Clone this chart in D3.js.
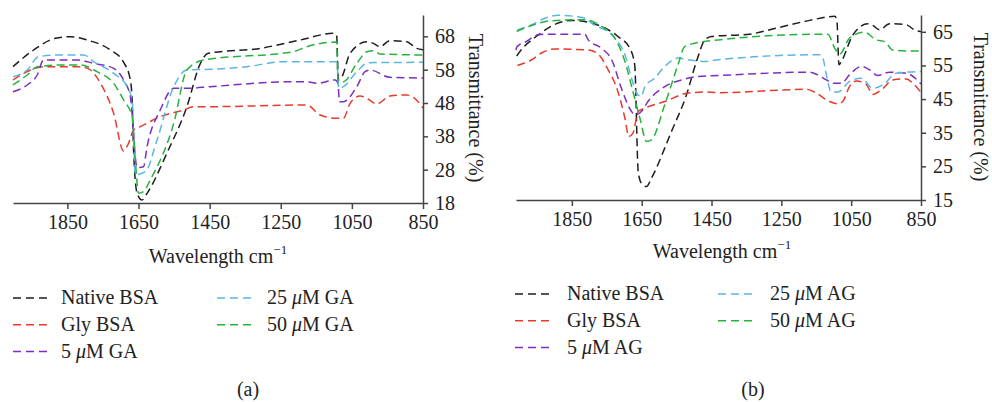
<!DOCTYPE html>
<html><head><meta charset="utf-8">
<script src="https://cdn.jsdelivr.net/npm/d3@7"></script>
<style>
html,body{margin:0;padding:0;background:#fff;}
svg{display:block;font-family:"Liberation Serif","DejaVu Serif",serif;}
</style></head>
<body><svg id="c" width="992" height="402"></svg>
<script>
// ---------- DATA ----------
const xTicks = [1850, 1650, 1450, 1250, 1050, 850];
const yTicksA = [18, 28, 38, 48, 58, 68];
const yTicksB = [15, 25, 35, 45, 55, 65];
const seriesColors = ["#1e1e1e", "#e8392b", "#7b2fc2", "#5db5e6", "#25b33c"];
const legendA = ["Native BSA", "Gly BSA", "5 μM GA", "25 μM GA", "50 μM GA"];
const legendB = ["Native BSA", "Gly BSA", "5 μM AG", "25 μM AG", "50 μM AG"];
const xTitle = "Wavelength cm";
const yTitle = "Transmittance (%)";

// Panel (a): [wavenumber, transmittance]
const nativeA = [[2003,58.9],[1945,63.9],[1884,67.4],[1842,67.9],[1795,66.9],[1729,63.9],[1693,60.4],[1673,54.9],[1668,48.9],[1664,33.9],[1654,20.9],[1640,18.9],[1626,20.9],[1570,33],[1514,46.9],[1476,59.9],[1454,62.9],[1308,64.4],[1195,66.9],[1102,68.9],[1093,68.4],[1088,54.9],[1078,55.9],[1055,62.9],[1008,66.4],[990,65.9],[971,64.9],[943,66.7],[896,66.4],[868,64.4],[850,64.0]];
const glyA = [[2003,54.9],[1954,57.9],[1917,58.9],[1813,58.9],[1785,57.9],[1757,53.9],[1720,44.9],[1692,33.6],[1678,35.9],[1664,39.9],[1645,40.9],[1589,43.9],[1523,45.9],[1495,46.9],[1448,46.9],[1177,47.4],[1139,44.4],[1092,43.4],[1074,43.4],[1055,47.9],[1027,50.1],[1008,49.4],[980,47.7],[943,50.1],[896,50.4],[877,49.7],[850,46.5]];
const ga5A = [[2003,51.4],[1963,53.4],[1935,56.4],[1917,60.9],[1823,60.9],[1776,59.9],[1720,58.4],[1692,54.9],[1673,49.9],[1654,28.6],[1636,28.9],[1626,34.9],[1589,45.9],[1551,52.4],[1514,52.4],[1448,52.9],[1214,54.4],[1177,54.4],[1149,53.9],[1097,54.9],[1089,53.9],[1085,48.4],[1074,48.4],[1036,52.9],[1013,57.4],[999,57.9],[943,55.7],[850,55.5]];
const ga25A = [[2003,55.9],[1963,57.9],[1931,61.9],[1870,62.4],[1804,62.4],[1776,60.4],[1720,56.9],[1682,52.9],[1668,48.9],[1659,26.5],[1630,27.5],[1598,36.9],[1551,52.9],[1514,57.9],[1448,58.1],[1345,58.9],[1242,60.4],[1092,60.4],[1087,52.4],[1074,52.9],[1036,57.4],[1004,60.1],[850,60.2]];
const ga50A = [[2003,53.4],[1963,56.4],[1935,58.9],[1860,59.4],[1813,59.4],[1767,57.4],[1720,53.9],[1692,48.9],[1668,43.9],[1659,30.9],[1650,20.9],[1636,21.4],[1617,24.9],[1551,41.9],[1514,57.9],[1467,60.9],[1214,63.4],[1177,64.9],[1093,66.3],[1089,54.4],[1074,54.4],[1036,59.9],[1008,63.4],[990,63.7],[971,62.7],[850,62.4]];

// Panel (b)
const nativeB = [[2008,57.8],[1999,59.1],[1946,64.1],[1889,67.6],[1851,68.4],[1794,67.6],[1718,63.6],[1684,60.1],[1670,55.2],[1660,23.4],[1651,20.0],[1636,19.0],[1622,21.5],[1565,35.3],[1522,46.2],[1493,56.2],[1469,62.6],[1450,63.6],[1341,64.3],[1264,66.1],[1169,68.4],[1097,69.6],[1091,68.6],[1085,55.2],[1078,56.2],[1045,64.1],[1002,67.4],[988,66.9],[969,65.6],[940,67.4],[892,67.1],[869,65.6],[850,65.0]];
const glyB = [[2006,55.0],[1965,56.7],[1937,58.7],[1899,59.9],[1803,59.6],[1775,58.4],[1746,53.7],[1718,47.2],[1698,39.3],[1687,33.9],[1675,34.9],[1660,41.3],[1641,42.3],[1584,44.3],[1517,46.8],[1469,47.1],[1431,46.9],[1178,47.9],[1150,46.8],[1121,44.8],[1088,43.6],[1074,44.3],[1055,48.7],[1035,50.4],[1007,49.4],[988,46.4],[959,48.2],[931,50.7],[892,51.0],[873,49.7],[850,47.0]];
const ag5B = [[2010,59.6],[2007,60.6],[1984,61.9],[1946,64.1],[1918,64.3],[1813,64.3],[1803,62.6],[1765,60.1],[1736,56.7],[1708,48.2],[1679,41.3],[1668,40.3],[1651,41.3],[1632,44.3],[1584,48.7],[1536,50.7],[1489,51.7],[1431,52.0],[1169,53.0],[1150,52.4],[1121,50.7],[1102,49.7],[1078,49.7],[1055,52.2],[1021,54.7],[997,53.7],[974,52.0],[940,53.0],[892,52.7],[850,49.5]];
const ag25B = [[2006,65.6],[1965,67.1],[1937,68.6],[1889,69.9],[1813,69.1],[1794,67.6],[1727,63.1],[1698,58.2],[1679,51.2],[1665,46.8],[1651,45.8],[1641,48.7],[1613,51.2],[1584,54.7],[1546,57.2],[1517,56.7],[1469,56.2],[1431,56.7],[1140,58.2],[1131,57.2],[1121,52.2],[1107,47.1],[1088,47.1],[1055,50.2],[1021,51.2],[988,48.2],[959,49.2],[921,52.7],[850,53.2]];
const ag50B = [[2008,65.1],[1965,66.9],[1908,68.3],[1813,68.6],[1765,66.6],[1727,63.1],[1698,56.2],[1675,47.2],[1655,39.3],[1636,32.4],[1622,32.9],[1584,43.3],[1546,55.2],[1527,60.6],[1498,61.6],[1431,62.6],[1131,64.3],[1117,64.3],[1097,60.1],[1083,58.4],[1055,63.1],[1012,64.9],[978,62.6],[954,62.1],[931,59.6],[883,59.3],[850,59.3]];

// ---------- DRAW ----------
const svg = d3.select("#c");
const FS = 20;

function panel(cfg) {
  const g = svg.append("g");
  const x = d3.scaleLinear().domain(cfg.xDomain).range(cfg.xRange);
  const y = d3.scaleLinear().domain(cfg.yDomain).range(cfg.yRange);

  const line = d3.line().x(d => x(d[0])).y(d => y(d[1])).curve(d3.curveMonotoneX);
  cfg.series.forEach((s, i) => {
    g.append("path").datum(s).attr("d", line)
      .attr("fill", "none").attr("stroke", seriesColors[i])
      .attr("stroke-width", 1.5).attr("stroke-dasharray", "8,4.5");
  });

  const xa = g.append("g").attr("transform", `translate(0,${cfg.yRange[0]})`)
    .call(d3.axisBottom(x).tickValues(xTicks).tickSize(6).tickSizeOuter(0).tickPadding(6).tickFormat(d3.format("d")));
  const ya = g.append("g").attr("transform", `translate(${cfg.xRange[1]},0)`)
    .call(d3.axisRight(y).tickValues(cfg.yTicks).tickSize(5).tickSizeOuter(0).tickPadding(7));
  [xa, ya].forEach(a => {
    a.selectAll("path,line").attr("stroke", "#444").attr("stroke-width", 1.5);
    a.selectAll("text").attr("font-size", FS).attr("fill", "#222")
      .attr("font-family", '"Liberation Serif","DejaVu Serif",serif');
  });

  // x title
  const xt = g.append("text").attr("x", cfg.xTitleX).attr("y", cfg.xTitleY)
    .attr("text-anchor", "middle").attr("font-size", FS).attr("fill", "#222");
  xt.append("tspan").text(xTitle);
  xt.append("tspan").attr("font-size", 13).attr("dy", -9).text("−1");

  // y title rotated
  g.append("text").attr("transform", `translate(${cfg.yTitleX},${cfg.yTitleY}) rotate(90)`)
    .attr("text-anchor", "middle").attr("font-size", FS).attr("fill", "#222").text(yTitle);

  // legend
  const pos = [[0,0],[0,1],[0,2],[1,0],[1,1]];
  cfg.legend.forEach((lab, i) => {
    const [c, r] = pos[i];
    const lx = cfg.legX[c], ly = cfg.legY + r * 26.8;
    g.append("line").attr("x1", lx).attr("x2", lx + 36).attr("y1", ly - 6).attr("y2", ly - 6)
      .attr("stroke", seriesColors[i]).attr("stroke-width", 1.5).attr("stroke-dasharray", "8,5");
    const t = g.append("text").attr("x", cfg.legTX[c]).attr("y", ly).attr("font-size", FS).attr("fill", "#222");
    const parts = lab.split("μ");
    t.append("tspan").text(parts[0]);
    if (parts.length > 1) {
      t.append("tspan").attr("font-style", "italic").text("μ");
      t.append("tspan").text(parts[1]);
    }
  });

  g.append("text").attr("x", cfg.capX).attr("y", 396).attr("text-anchor", "middle")
    .attr("font-size", FS).attr("fill", "#222").text(cfg.caption);
}

panel({
  xDomain: [2003, 850], xRange: [13, 423],
  yDomain: [18, 74.4], yRange: [203, 15], yTicks: yTicksA,
  series: [nativeA, glyA, ga5A, ga25A, ga50A],
  xTitleX: 218, xTitleY: 263, yTitleX: 469, yTitleY: 108,
  legend: legendA, legX: [13, 217], legTX: [61, 267], legY: 304, capX: 248, caption: "(a)"
});
panel({
  xDomain: [2010, 850], xRange: [516, 921],
  yDomain: [15, 70], yRange: [200, 15], yTicks: yTicksB,
  series: [nativeB, glyB, ag5B, ag25B, ag50B],
  xTitleX: 722, xTitleY: 258, yTitleX: 974, yTitleY: 107,
  legend: legendB, legX: [515, 718], legTX: [567, 770], legY: 300, capX: 753, caption: "(b)"
});
</script></body></html>
